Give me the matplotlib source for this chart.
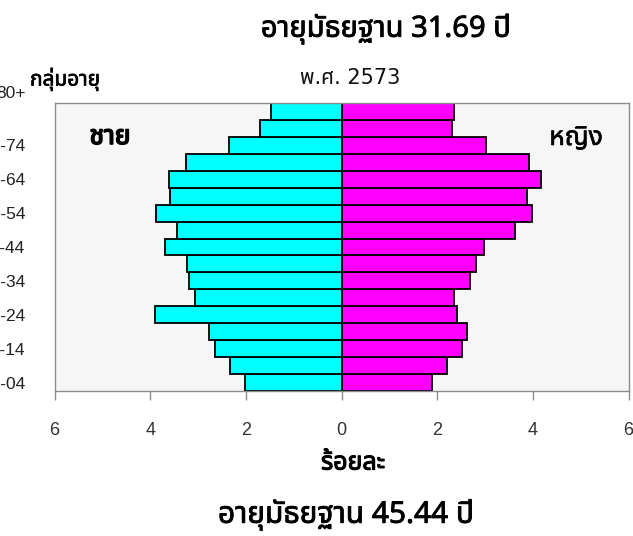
import matplotlib
matplotlib.use("Agg")
import matplotlib.pyplot as plt
from matplotlib import font_manager
from matplotlib.ft2font import FT2Font
from matplotlib.transforms import ScaledTranslation
import matplotlib.patheffects as pe

# ---------------- data ----------------
age_groups = ["00-04", "05-09", "10-14", "15-19", "20-24", "25-29", "30-34", "35-39",
              "40-44", "45-49", "50-54", "55-59", "60-64", "65-69", "70-74", "75-79", "80+"]
male = [2.02, 2.34, 2.64, 2.76, 3.90, 3.06, 3.18, 3.23, 3.70, 3.44, 3.87, 3.59, 3.61,
        3.25, 2.35, 1.71, 1.47]
female = [1.89, 2.20, 2.51, 2.62, 2.41, 2.36, 2.68, 2.82, 2.97, 3.63, 3.98, 3.87, 4.17,
          3.91, 3.03, 2.32, 2.36]
ytick_labels = ["00-04", "10-14", "20-24", "30-34", "40-44", "50-54", "60-64", "70-74", "80+"]
xtick_values = [-6, -4, -2, 0, 2, 4, 6]
title_top = "อายุมัธยฐาน 31.69 ปี"
subtitle = "พ.ศ. 2573"
title_bottom = "อายุมัธยฐาน 45.44 ปี"
xlabel = "ร้อยละ"
ylabel = "กลุ่มอายุ"
male_label = "ชาย"
female_label = "หญิง"

# ------------- find a Thai-capable font -------------
thai_family = None
preferred = ["Noto Sans Thai", "Noto Sans Thai Looped", "Loma", "Garuda", "Sarabun",
             "Tahoma", "Leelawadee UI", "Norasi", "Kinnari", "Laksaman"]
found = {}
for fe in font_manager.fontManager.ttflist:
    if fe.name in found:
        continue
    try:
        cm = FT2Font(fe.fname).get_charmap()
        if 0x0E2D in cm and 0x0E22 in cm:
            found[fe.name] = fe.fname
    except Exception:
        pass
for p in preferred:
    if p in found:
        thai_family = p
        break
if thai_family is None and found:
    thai_family = sorted(found)[0]
thai_fam = [thai_family, "DejaVu Sans"] if thai_family else ["DejaVu Sans"]

plt.rcParams["font.family"] = thai_fam


def bold_fx(w):
    return [pe.withStroke(linewidth=w, foreground="black")]


# ------------- figure -------------
W, H = 633, 536
fig = plt.figure(figsize=(W / 100, H / 100), dpi=100)
ax_l, ax_r, ax_t, ax_b = 54.5, 628.5, 103, 391
ax = fig.add_axes([ax_l / W, 1 - ax_b / H, (ax_r - ax_l) / W, (ax_b - ax_t) / H])
ax.set_facecolor("#f6f6f6")

y = list(range(len(age_groups)))
ax.barh(y, [-v for v in male], height=1.0, color="#00ffff", edgecolor="black", linewidth=1.3)
ax.barh(y, female, height=1.0, color="#ff00ff", edgecolor="black", linewidth=1.3)

ax.set_xlim(-6, 6)
ax.set_ylim(-0.5, len(age_groups) - 0.5)

for s in ax.spines.values():
    s.set_color("#8c8c8c")
    s.set_linewidth(1.0)

ax.set_xticks(xtick_values)
ax.set_xticklabels([str(abs(v)) for v in xtick_values], fontsize=13,
                   family=["Liberation Sans", "DejaVu Sans"], color="#333333")
ax.tick_params(axis="x", direction="out", length=6.5, width=1, color="#8c8c8c", pad=15.5)

ytick_pos = [age_groups.index(l) for l in ytick_labels]
ax.set_yticks(ytick_pos)
ax.set_yticklabels(ytick_labels, fontsize=12.5, family=["Liberation Sans", "DejaVu Sans"],
                   color="#222222")
ax.tick_params(axis="y", length=0, pad=21)
# the top label sits higher in the original
lbls = ax.get_yticklabels()
lbls[-1].set_transform(lbls[-1].get_transform() + ScaledTranslation(0, 19 / 100, fig.dpi_scale_trans))

# texts
fig.text(386 / W, 1 - 29 / H, title_top, ha="center", va="center", fontsize=21,
         path_effects=bold_fx(0.6))
fig.text(350 / W, 1 - 78 / H, subtitle, ha="center", va="center", fontsize=15,
         family=["DejaVu Sans", thai_family or "DejaVu Sans"], color="#111111")
fig.text(65 / W, 1 - 79 / H, ylabel, ha="center", va="center", fontsize=15,
         path_effects=bold_fx(0.5))
fig.text(110 / W, 1 - 137 / H, male_label, ha="center", va="center", fontsize=19,
         path_effects=bold_fx(1.2))
fig.text(576 / W, 1 - 138 / H, female_label, ha="center", va="center", fontsize=19,
         path_effects=bold_fx(0.4))
fig.text(353 / W, 1 - 463 / H, xlabel, ha="center", va="center", fontsize=18,
         path_effects=bold_fx(0.8))
fig.text(346 / W, 1 - 515 / H, title_bottom, ha="center", va="center", fontsize=21.5,
         path_effects=bold_fx(0.6))

fig.savefig("out.png", dpi=100)
